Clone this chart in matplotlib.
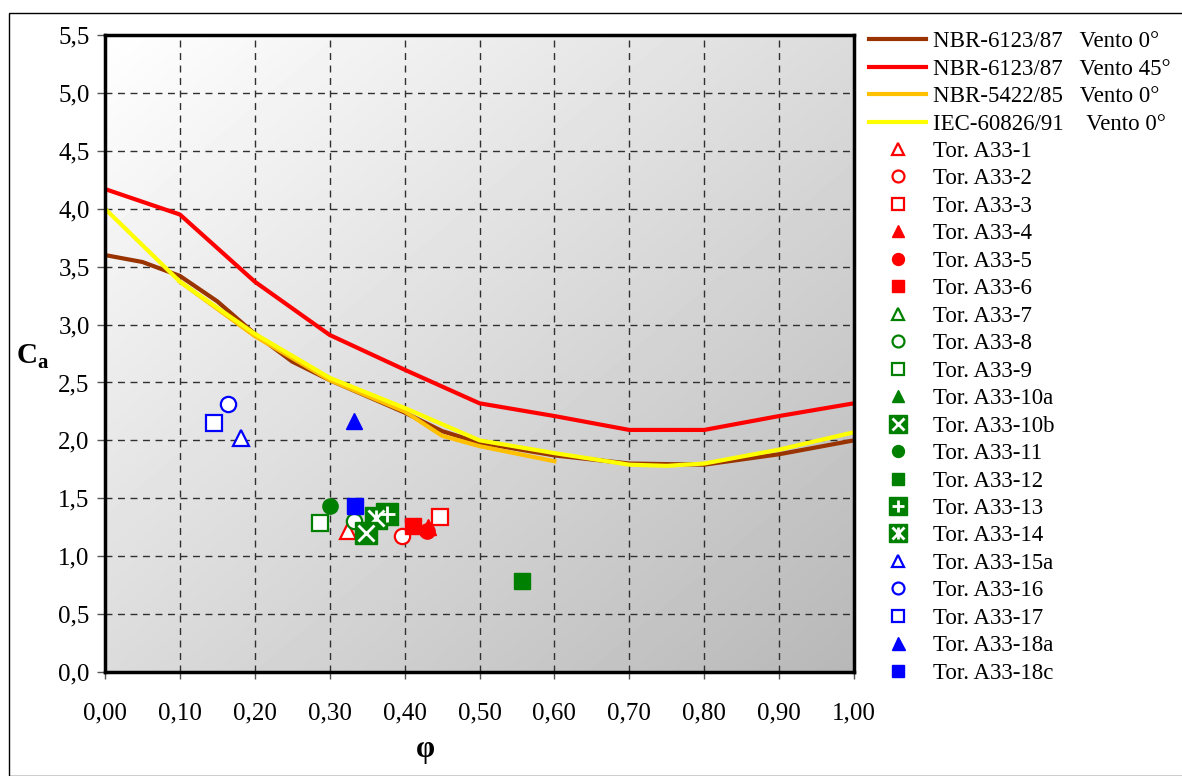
import matplotlib
matplotlib.use("Agg")
import matplotlib.pyplot as plt
import numpy as np
from matplotlib.patches import Rectangle
from matplotlib.legend_handler import HandlerTuple
from matplotlib.ticker import FixedLocator, FuncFormatter

plt.rcParams["font.family"] = ["Liberation Serif", "DejaVu Serif"]

# reference curves (phi, Ca)
nbr6123_0_x = [0.00, 0.05, 0.10, 0.15, 0.20, 0.25, 0.30, 0.35, 0.40, 0.45, 0.50, 0.60, 0.70, 0.80, 0.90, 1.00]
nbr6123_0_y = [3.60, 3.54, 3.42, 3.20, 2.92, 2.68, 2.52, 2.38, 2.24, 2.08, 1.98, 1.87, 1.80, 1.79, 1.88, 2.00]

nbr6123_45_x = [0.00, 0.10, 0.20, 0.30, 0.40, 0.50, 0.60, 0.70, 0.80, 0.90, 1.00]
nbr6123_45_y = [4.17, 3.95, 3.37, 2.91, 2.61, 2.32, 2.21, 2.09, 2.09, 2.21, 2.32]

nbr5422_x = [0.10, 0.20, 0.30, 0.40, 0.45, 0.50, 0.60]
nbr5422_y = [3.37, 2.90, 2.52, 2.25, 2.04, 1.95, 1.82]

iec_x = [0.00, 0.10, 0.20, 0.30, 0.40, 0.50, 0.60, 0.70, 0.75, 0.80, 0.90, 1.00]
iec_y = [4.00, 3.37, 2.92, 2.54, 2.28, 2.00, 1.89, 1.79, 1.78, 1.80, 1.92, 2.07]

# tower measurements
tower_names = ["Tor. A33-1", "Tor. A33-2", "Tor. A33-3", "Tor. A33-4", "Tor. A33-5",
               "Tor. A33-6", "Tor. A33-7", "Tor. A33-8", "Tor. A33-9", "Tor. A33-10a",
               "Tor. A33-10b", "Tor. A33-11", "Tor. A33-12", "Tor. A33-13", "Tor. A33-14",
               "Tor. A33-15a", "Tor. A33-16", "Tor. A33-17", "Tor. A33-18a", "Tor. A33-18c"]
tower_phi = [0.324, 0.397, 0.447, 0.431, 0.430, 0.411, None, 0.333, 0.287, None,
             0.348, 0.300, 0.557, 0.377, 0.362, 0.181, 0.164, 0.145, 0.332, 0.334]
tower_ca = [1.22, 1.17, 1.34, 1.25, 1.22, 1.26, None, 1.30, 1.29, None,
            1.20, 1.43, 0.79, 1.36, 1.33, 2.02, 2.31, 2.15, 2.17, 1.43]

RED, GREEN, BLUE = "#ff0000", "#008000", "#0000ff"
# (colour, marker, filled, overlay) per tower
styles = [
    (RED, "^", False, None), (RED, "o", False, None), (RED, "s", False, None),
    (RED, "^", True, None), (RED, "o", True, None), (RED, "s", True, None),
    (GREEN, "^", False, None), (GREEN, "o", False, None), (GREEN, "s", False, None),
    (GREEN, "^", True, None), (GREEN, "s", True, ["x"]), (GREEN, "o", True, None),
    (GREEN, "s", True, None), (GREEN, "s", True, ["+"]), (GREEN, "s", True, ["x", "|"]),
    (BLUE, "^", False, None), (BLUE, "o", False, None), (BLUE, "s", False, None),
    (BLUE, "^", True, None), (BLUE, "s", True, None),
]

fig = plt.figure(figsize=(11.82, 7.76), dpi=100)
W, H = 1182, 776
fig.patches.append(Rectangle((9 / W, 0), 1.2, 1 - 13 / H, transform=fig.transFigure,
                             fill=False, edgecolor="black", linewidth=1.0))

ax = fig.add_axes([105 / W, 1 - 672 / H, (854 - 105) / W, (672 - 35) / H])
ax.set_xlim(0, 1.0)
ax.set_ylim(0, 5.5)

# diagonal grey gradient background
gx, gy = np.meshgrid(np.linspace(0, 1, 200), np.linspace(1, 0, 200))
shade = 1.0 - 0.28 * (gx + (1 - gy)) / 2
ax.imshow(shade, cmap="gray", vmin=0, vmax=1, extent=[0, 1, 0, 5.5],
          aspect="auto", zorder=0, interpolation="bilinear")

ax.xaxis.set_major_locator(FixedLocator(np.arange(0, 1.01, 0.1)))
ax.yaxis.set_major_locator(FixedLocator(np.arange(0, 5.51, 0.5)))
ax.xaxis.set_major_formatter(FuncFormatter(lambda v, p: f"{v:.2f}".replace(".", ",")))
ax.yaxis.set_major_formatter(FuncFormatter(lambda v, p: f"{v:.1f}".replace(".", ",")))
ax.grid(True, color="#303030", linestyle=(0, (5, 4)), linewidth=1.0, zorder=1)
ax.set_axisbelow(True)
ax.tick_params(axis="y", labelsize=18, length=6, width=1, color="#555555", pad=5)
ax.tick_params(axis="x", labelsize=18, length=5, width=1, color="#555555", pad=17)
for sp in ax.spines.values():
    sp.set_linewidth(2.5)
    sp.set_zorder(10)

line_handles = []
lw = 3.0
h, = ax.plot(nbr6123_0_x, nbr6123_0_y, color="#993300", lw=lw, zorder=3,
             label="NBR-6123/87   Vento 0°")
line_handles.append(h)
h, = ax.plot(nbr6123_45_x, nbr6123_45_y, color="#ff0000", lw=lw, zorder=3,
             label="NBR-6123/87   Vento 45°")
line_handles.append(h)
h, = ax.plot(nbr5422_x, nbr5422_y, color="#ffc000", lw=lw, zorder=3,
             label="NBR-5422/85   Vento 0°")
line_handles.append(h)
h, = ax.plot(iec_x, iec_y, color="#ffff00", lw=lw, zorder=4,
             label="IEC-60826/91    Vento 0°")
line_handles.append(h)

marker_handles = []
for name, px, py, (col, mk, filled, over) in zip(tower_names, tower_phi, tower_ca, styles):
    xs = [] if px is None else [px]
    ys = [] if py is None else [py]
    ms = 16 if over else 11
    if mk == "^" and filled and col == BLUE:
        ms = 12
    z = 6 if name.endswith("10b") else 5
    base, = ax.plot(xs, ys, linestyle="none", marker=mk, markersize=ms,
                    markerfacecolor=col if filled else "white",
                    markeredgecolor=col, markeredgewidth=1.0 if filled else 1.6,
                    zorder=z, clip_on=False)
    parts = [base]
    if over:
        for om in over:
            o, = ax.plot(xs, ys, linestyle="none", marker=om,
                         markersize=ms * 0.72, markeredgecolor="white",
                         markeredgewidth=2.0, zorder=z + 0.1, clip_on=False)
            parts.append(o)
    marker_handles.append(tuple(parts) if len(parts) > 1 else base)

handles = line_handles + marker_handles
labels = [h.get_label() for h in line_handles] + tower_names
fig.legend(handles, labels, loc="upper left", bbox_to_anchor=(860 / W, 1 - 22 / H),
           frameon=False, fontsize=16.5, handlelength=2.5, handletextpad=0.3,
           labelspacing=0.28, markerscale=0.78, borderaxespad=0,
           handler_map={tuple: HandlerTuple(ndivide=1)})

fig.text(27 / W, 1 - 356 / H, "C", fontsize=21, fontweight="bold", ha="center", va="center")
fig.text(37 / W, 1 - 363 / H, "a", fontsize=15, fontweight="bold", ha="left", va="center")
fig.text(425 / W, 1 - 750 / H, "φ", fontsize=22, fontweight="bold", ha="center", va="center")

fig.savefig("out.png", dpi=100)
